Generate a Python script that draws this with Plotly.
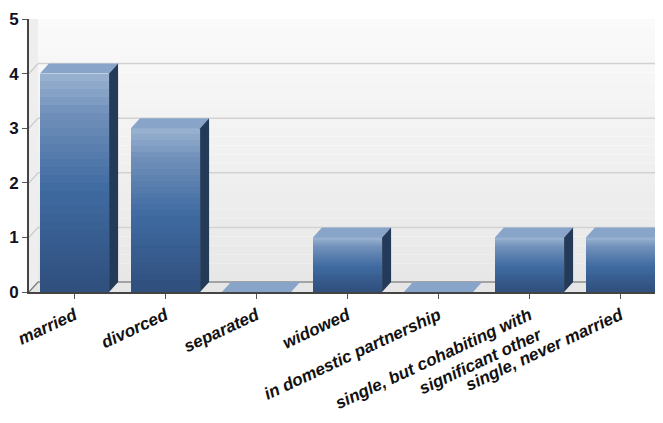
import plotly.graph_objects as go

# ---- data ----
categories = ["married", "divorced", "separated", "widowed",
              "in domestic partnership",
              "single, but cohabiting with<br>significant other",
              "single, never married"]
values = [4, 3, 0, 1, 0, 1, 1]
y_ticks = [0, 1, 2, 3, 4, 5]

# ---- styling constants ----
BAR_W = 0.76
DX = 0.099      # depth offset in x (data units)
DY = 0.183      # depth offset in y (data units)
X_MIN, X_MAX = -0.5, 6.467
Y_MAX = 5
FONT = "Liberation Sans Narrow, Liberation Sans, Arial, sans-serif"

front_stops = [(0.0, (48, 80, 126)), (0.45, (63, 106, 161)),
               (0.8, (112, 144, 186)), (1.0, (160, 183, 212))]


def interp(stops, t):
    for (t0, c0), (t1, c1) in zip(stops, stops[1:]):
        if t <= t1:
            f = (t - t0) / (t1 - t0) if t1 > t0 else 0
            return "rgb(%d,%d,%d)" % tuple(round(a + (b - a) * f) for a, b in zip(c0, c1))
    return "rgb(%d,%d,%d)" % stops[-1][1]


xs = list(range(len(categories)))
fig = go.Figure()

# front faces drawn as layered bars (vertical gradient)
N = 28
for i in range(N):
    t = i / N
    fig.add_trace(go.Bar(
        x=xs, y=[v * (1 - t) for v in values], base=[v * t for v in values],
        width=BAR_W, marker=dict(color=interp(front_stops, t), line=dict(width=0)),
        hoverinfo="skip", showlegend=False))

shapes = []
# back wall gradient
M = 30
wall_top = Y_MAX + DY
for j in range(M):
    y0 = DY + (wall_top - DY) * j / M
    y1 = DY + (wall_top - DY) * (j + 1) / M
    g = round(231 + (251 - 231) * (j + 0.5) / M)
    shapes.append(dict(type="rect", xref="x", yref="y", layer="below",
                       x0=X_MIN + DX, x1=X_MAX + 1, y0=y0, y1=y1,
                       fillcolor="rgb(%d,%d,%d)" % (g, g, g), line=dict(width=0)))
# left wall
shapes.append(dict(type="path", xref="x", yref="y", layer="below",
                   path="M %f,0 L %f,%f L %f,%f L %f,%f Z" % (
                       X_MIN, X_MIN + DX, DY, X_MIN + DX, Y_MAX + DY, X_MIN, Y_MAX),
                   fillcolor="#eeeeee", line=dict(width=0)))
# floor
shapes.append(dict(type="path", xref="x", yref="y", layer="below",
                   path="M %f,0 L %f,0 L %f,%f L %f,%f Z" % (
                       X_MIN, X_MAX + 1, X_MAX + 1, DY, X_MIN + DX, DY),
                   fillcolor="#e6e6e6", line=dict(width=0)))
# gridlines on back wall and left wall
for k in y_ticks:
    if k > 0:
        shapes.append(dict(type="line", xref="x", yref="y", layer="below",
                           x0=X_MIN + DX, x1=X_MAX + 1, y0=k + DY, y1=k + DY,
                           line=dict(color="#d2d2d2", width=1.5)))
    shapes.append(dict(type="line", xref="x", yref="y", layer="below",
                       x0=X_MIN, x1=X_MIN + DX, y0=k, y1=k + DY,
                       line=dict(color="#c8c8c8" if k > 0 else "#777777", width=1.2)))
# back edge of floor
shapes.append(dict(type="line", xref="x", yref="y", layer="below",
                   x0=X_MIN + DX, x1=X_MAX + 1, y0=DY, y1=DY,
                   line=dict(color="#8c8c8c", width=1.5)))

# 3D top and side faces of bars
for xi, v in zip(xs, values):
    xl = xi - BAR_W / 2
    xr = xi + BAR_W / 2
    shapes.append(dict(type="path", xref="x", yref="y", layer="above",
                       path="M %f,%f L %f,%f L %f,%f L %f,%f Z" % (
                           xl, v, xr, v, xr + DX, v + DY, xl + DX, v + DY),
                       fillcolor="#88a5c9", line=dict(width=0)))
    if v > 0:
        shapes.append(dict(type="path", xref="x", yref="y", layer="above",
                           path="M %f,0 L %f,%f L %f,%f L %f,%f Z" % (
                               xr, xr + DX, DY, xr + DX, v + DY, xr, v),
                           fillcolor="#233a58", line=dict(width=0)))

# page body has an 8px margin; figure is sized/offset to compensate
fig.update_layout(
    width=655, height=415,
    margin=dict(l=21, r=0, t=11, b=131, pad=0),
    paper_bgcolor="white", plot_bgcolor="white",
    barmode="overlay", bargap=0, showlegend=False,
    shapes=shapes,
    xaxis=dict(range=[X_MIN, X_MAX], tickvals=xs, ticktext=categories,
               tickangle=-25, showgrid=False, zeroline=False,
               showline=True, linecolor="#444444", linewidth=2,
               ticks="outside", ticklen=5, tickcolor="#555555", tickwidth=1,
               tickfont=dict(family=FONT, size=17, color="#111111",
                             weight="bold", style="italic"),
               automargin=False, fixedrange=True),
    yaxis=dict(range=[0, Y_MAX], tickvals=y_ticks, showgrid=False, zeroline=False,
               showline=True, linecolor="#444444", linewidth=2,
               ticks="outside", ticklen=5, tickcolor="#555555", tickwidth=1,
               tickfont=dict(family=FONT, size=17, color="#111122", weight="bold"),
               automargin=False, fixedrange=True),
)

fig.write_html("out.html")
